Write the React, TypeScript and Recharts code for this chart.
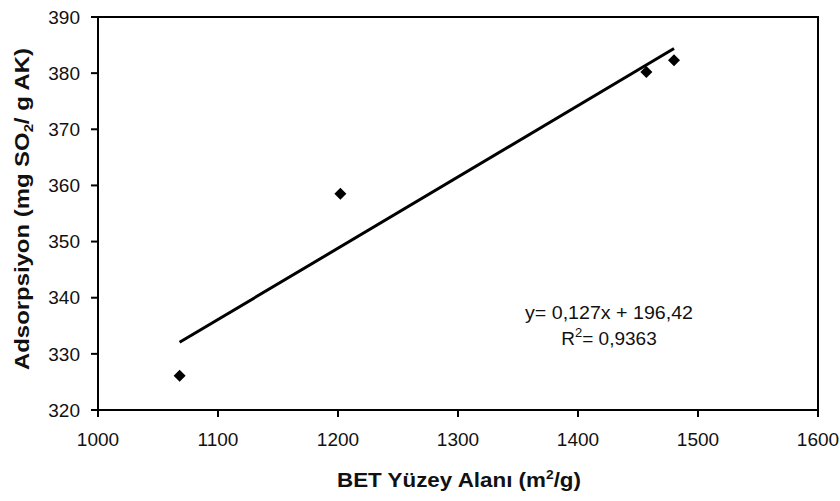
import { ComposedChart, Scatter, Line, XAxis, YAxis, ReferenceArea } from "recharts";

// BET surface area (m²/g) vs SO2 adsorption (mg SO2 / g AK)
const surfaceArea = [1068, 1202, 1457, 1480];
const adsorption = [326.1, 358.5, 380.2, 382.3];

const xTicks = [1000, 1100, 1200, 1300, 1400, 1500, 1600];
const yTicks = [320, 330, 340, 350, 360, 370, 380, 390];

// linear fit shown on the chart
const slope = 0.127;
const intercept = 196.42;
const rSquared = "0,9363";
const fitRange = [1068, 1480];

const points = surfaceArea.map((x, i) => ({ x, y: adsorption[i] }));
const fitLine = fitRange.map((x) => ({ x, fit: slope * x + intercept }));

const FONT = "'Liberation Sans', Arial, sans-serif";
const INK = "#111";

function Diamond(props: { cx?: number; cy?: number }) {
  const { cx = 0, cy = 0 } = props;
  const r = 6;
  return (
    <polygon
      points={`${cx},${cy - r} ${cx + r},${cy} ${cx},${cy + r} ${cx - r},${cy}`}
      fill="#000"
    />
  );
}

export default function App() {
  return (
    <div style={{ position: "absolute", left: 0, top: 0, background: "#fff" }}>
      <ComposedChart
        width={840}
        height={501}
        margin={{ top: 17, right: 22, bottom: 0, left: 0 }}
      >
        <XAxis
          dataKey="x"
          type="number"
          domain={[1000, 1600]}
          ticks={xTicks}
          allowDataOverflow
          height={91}
          tickSize={7}
          tickMargin={16}
          axisLine={{ stroke: "#000", strokeWidth: 2 }}
          tickLine={{ stroke: "#000", strokeWidth: 2 }}
          tick={{ fill: INK, fontSize: 19, fontFamily: FONT }}
        />
        <YAxis
          type="number"
          domain={[320, 390]}
          ticks={yTicks}
          allowDataOverflow
          width={98}
          tickSize={7}
          tickMargin={11}
          axisLine={{ stroke: "#000", strokeWidth: 2 }}
          tickLine={{ stroke: "#000", strokeWidth: 2 }}
          tick={{ fill: INK, fontSize: 19, fontFamily: FONT }}
        />
        <ReferenceArea
          x1={1000}
          x2={1600}
          y1={320}
          y2={390}
          fill="none"
          stroke="#000"
          strokeWidth={2}
          fillOpacity={0}
        />
        <Line
          data={fitLine}
          dataKey="fit"
          type="linear"
          stroke="#000"
          strokeWidth={3}
          dot={false}
          activeDot={false}
          isAnimationActive={false}
        />
        <Scatter
          data={points}
          dataKey="y"
          shape={<Diamond />}
          isAnimationActive={false}
        />
        <text
          x={609}
          y={319}
          textAnchor="middle"
          fontFamily={FONT}
          fontSize={19}
          fill={INK}
          textLength={168}
          lengthAdjust="spacingAndGlyphs"
        >
          {`y= 0,127x + 196,42`}
        </text>
        <text
          x={609}
          y={345}
          textAnchor="middle"
          fontFamily={FONT}
          fontSize={19}
          fill={INK}
        >
          R<tspan dy={-8} fontSize={13}>2</tspan>
          <tspan dy={8}>{`= ${rSquared}`}</tspan>
        </text>
        <text
          x={459}
          y={487}
          textAnchor="middle"
          fontFamily={FONT}
          fontSize={21}
          fontWeight="bold"
          fill={INK}
          textLength={244}
          lengthAdjust="spacingAndGlyphs"
        >
          BET Yüzey Alanı (m<tspan dy={-8} fontSize={13}>2</tspan>
          <tspan dy={8}>/g)</tspan>
        </text>
        <text
          transform="translate(29, 209) rotate(-90)"
          textAnchor="middle"
          fontFamily={FONT}
          fontSize={21}
          fontWeight="bold"
          fill={INK}
          textLength={322}
          lengthAdjust="spacingAndGlyphs"
        >
          Adsorpsiyon (mg SO<tspan dy={4} fontSize={13}>2</tspan>
          <tspan dy={-4}>/ g AK)</tspan>
        </text>
      </ComposedChart>
    </div>
  );
}
